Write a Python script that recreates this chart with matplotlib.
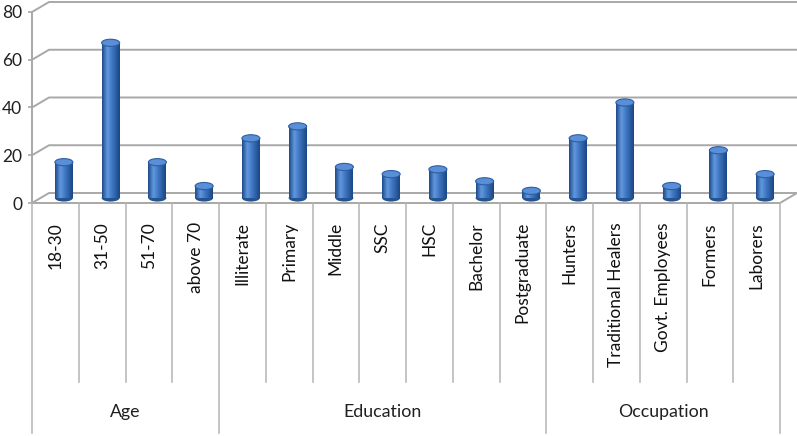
import numpy as np
import matplotlib.pyplot as plt
import matplotlib.transforms as mtransforms
from matplotlib.patches import Ellipse
from matplotlib.colors import LinearSegmentedColormap

groups = ['Age', 'Education', 'Occupation']
group_sizes = [4, 7, 5]
labels = ['18-30', '31-50', '51-70', 'above 70',
          'Illiterate', 'Primary', 'Middle', 'SSC', 'HSC', 'Bachelor', 'Postgraduate',
          'Hunters', 'Traditional Healers', 'Govt. Employees', 'Formers', 'Laborers']
values = [15, 65, 15, 5, 25, 30, 13, 10, 12, 7, 3, 25, 40, 5, 20, 10]
yticks = [0, 20, 40, 60, 80]

plt.rcParams['font.family'] = ['Lato', 'DejaVu Sans']

W, H = 797, 436
fig = plt.figure(figsize=(W / 100, H / 100), dpi=100)
ax = fig.add_axes([32 / W, 1 - 203 / H, 748 / W, 191 / H])
n = len(labels)

# fake 3d depth of the floor / back wall
dx, dy = 0.364, 4.19
grid_c = '#a8a8a8'

for v in yticks:
    ax.plot([-0.5, -0.5 + dx, n - 0.5 + dx], [v, v + dy, v + dy],
            color=grid_c, lw=1.4, clip_on=False, zorder=1)
ax.plot([n - 0.5, n - 0.5 + dx], [0, dy], color=grid_c, lw=1.4, clip_on=False, zorder=1)
ax.plot([-0.5, n - 0.5], [0, 0], color=grid_c, lw=1.4, clip_on=False, zorder=1)
ax.plot([-0.5, -0.5], [0, 80], color=grid_c, lw=1.4, clip_on=False, zorder=1)

# cylinders
cmap = LinearSegmentedColormap.from_list('cyl', [(0, '#1c4a8a'), (0.3, '#6398de'),
                                                 (0.55, '#4179c5'), (1, '#1a4684')])
grad = np.linspace(0, 1, 64).reshape(1, -1)
bw = 0.385
eh = 3.0
xs = np.arange(n) + dx / 2
bars = ax.bar(xs, values, bw, bottom=dy / 2, color='#3a70ba', zorder=3)
for x, v, b in zip(xs, values, bars):
    ax.add_patch(Ellipse((x, dy / 2), bw, eh, facecolor='#24548f', edgecolor='none', zorder=2.9))
    im = ax.imshow(grad, extent=[x - bw / 2, x + bw / 2, dy / 2, dy / 2 + v],
                   aspect='auto', cmap=cmap, zorder=3.1, interpolation='bilinear')
    im.set_clip_path(b)
    ax.add_patch(Ellipse((x, dy / 2 + v), bw, eh, facecolor='#5a8fd8',
                         edgecolor='#2c5ea3', lw=0.8, zorder=4))

ax.set_xlim(-0.5, n - 0.5)
ax.set_ylim(0, 80)
for s in ax.spines.values():
    s.set_visible(False)
ax.set_xticks([])
ax.set_yticks(yticks)
ax.tick_params(axis='y', length=3, width=1.2, color=grid_c, pad=4,
               labelsize=12.5, labelcolor='#202020')

# category table below the floor
trans = mtransforms.blended_transform_factory(ax.transData, ax.transAxes)
line_c = '#b4b4b4'
bounds = np.cumsum([0] + group_sizes) - 0.5
for k in range(n + 1):
    xk = k - 0.5
    low = -1.204 if xk in bounds else -0.937
    ax.plot([xk, xk], [0, low], color=line_c, lw=1.1, transform=trans, clip_on=False)
for i, lab in enumerate(labels):
    ax.text(i, -0.1, lab, rotation=90, ha='center', va='top', transform=trans,
            fontsize=12.5, color='#111111')
for g, a, b in zip(groups, bounds[:-1], bounds[1:]):
    ax.text((a + b) / 2, -1.094, g, ha='center', va='center', transform=trans,
            fontsize=12.8, color='#202020')

fig.savefig('out.png', dpi=100)
